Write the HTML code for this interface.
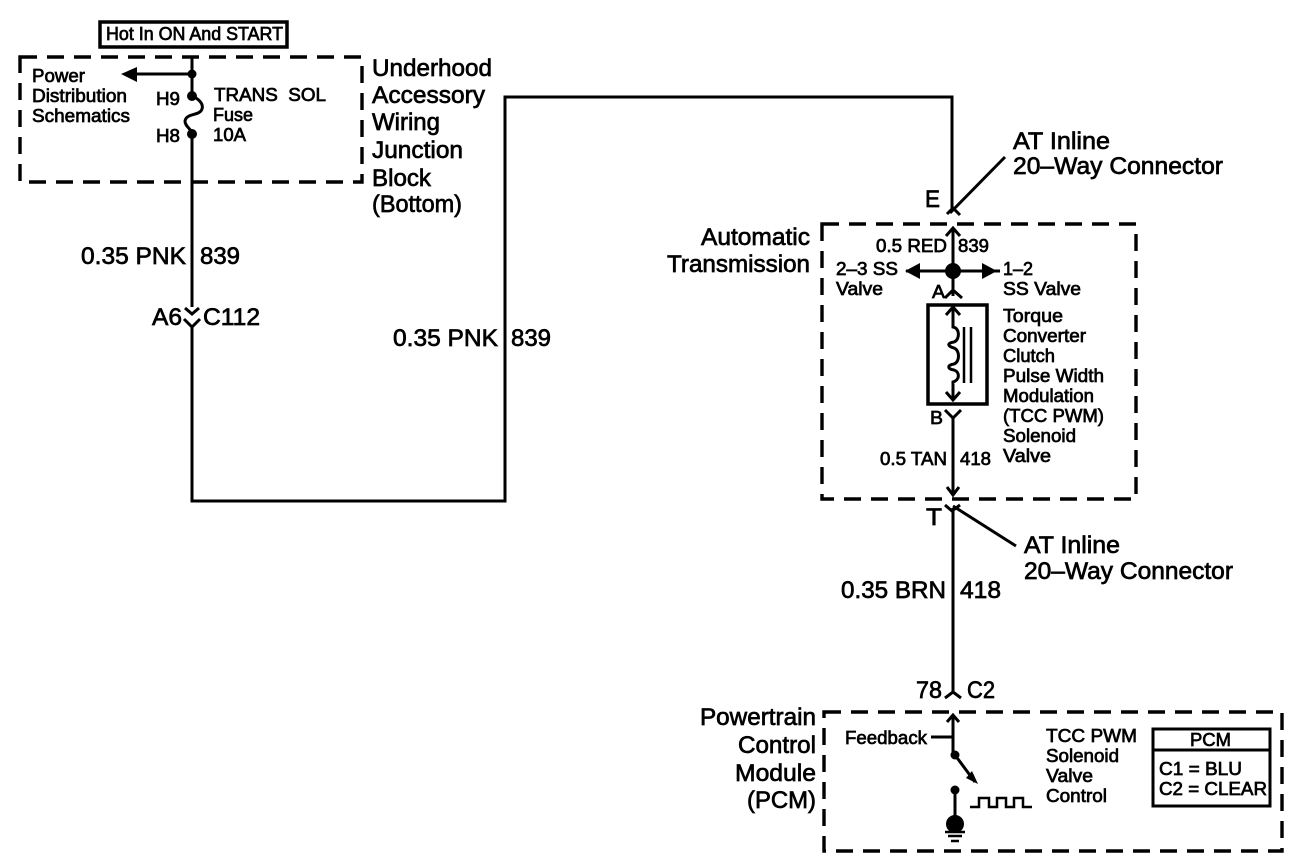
<!DOCTYPE html>
<html><head><meta charset="utf-8"><style>
html,body{margin:0;padding:0;background:#fff}
svg{display:block}
text{font-family:"Liberation Sans",sans-serif;fill:#000;stroke:#000;stroke-width:.7}
.s{font-size:18px}.m{font-size:24px}
.w{fill:none;stroke:#000;stroke-width:3}
.d{fill:none;stroke:#000;stroke-width:3.4;stroke-dasharray:17 10}
</style></head><body>
<svg width="1312" height="866" viewBox="0 0 1312 866" xmlns="http://www.w3.org/2000/svg">
<rect x="100" y="22" width="187" height="25" fill="none" stroke="#000" stroke-width="3.5"/>
<rect class="d" x="20" y="57" width="342" height="125"/>
<rect class="d" x="822" y="224" width="314" height="275"/>
<rect class="d" x="824" y="712" width="458" height="139"/>
<path class="w" d="M192 56V96M136 74H192M192 134V307M185 308L192 314L199 308M184 319L192 327L200 319M192 327V501H505V97H952V211"/>
<path class="w" d="M192 96C197 98 204 103 202 109C200 116 186 113 185 121C185 127 192 129 192 134"/>
<circle cx="192" cy="74" r="4.5"/><circle cx="192" cy="96" r="5"/><circle cx="192" cy="134" r="5"/>
<polygon points="121,74 137,67 137,82"/>
<!-- top connector -->
<path class="w" d="M1005 157L950 213M947 214L953 208L960 215"/>
<path class="w" d="M953 228V296M946 236L953 228L960 236M945 298L953 290L962 298M906 271H1000"/>
<circle cx="953" cy="271" r="8"/>
<polygon points="905,271 920,263 920,279"/><polygon points="997,271 982,263 982,279"/>
<rect x="928" y="305" width="59" height="99" fill="none" stroke="#000" stroke-width="3.5"/>
<path class="w" d="M946 315L953 307L960 315M953 308V327C960 328 960 340 954 342C947 343 947 346 954 348C960 350 960 362 954 364C947 365 947 369 954 370C960 372 960 380 953 382V400M946 392L953 400L960 392"/>
<path d="M964 327V383M971 327V383" fill="none" stroke="#000" stroke-width="2.5"/>
<path class="w" d="M945 410L953 418L961 410M953 418V495M947 487L953 495L959 487M945 505L952 511L960 505M953 508V692M953 506L1016 546M945 698L953 692L961 698"/>
<!-- PCM -->
<path class="w" d="M953 715V755M947 722L953 715L959 722M931 737H953M955 755L975 782M955 790V824"/>
<polygon points="978,784 966,778 972,771"/>
<circle cx="955" cy="755" r="4.5"/><circle cx="955" cy="790" r="4.5"/><circle cx="955" cy="824" r="9"/>
<path d="M945 832H965M948 836H962M951 841H959" stroke="#000" stroke-width="2.5"/>
<path d="M970 807H979V798H989V807H997V798H1006V807H1014V798H1023V807H1032" fill="none" stroke="#000" stroke-width="2.5"/>
<rect x="1153" y="729" width="117" height="77" fill="none" stroke="#000" stroke-width="3"/>
<path class="w" d="M1153 750H1270"/>

<text class="s" x="106" y="40" textLength="177" lengthAdjust="spacingAndGlyphs">Hot In ON And START</text>
<text class="s" x="32" y="82" textLength="53" lengthAdjust="spacingAndGlyphs">Power</text>
<text class="s" x="32" y="102" textLength="95" lengthAdjust="spacingAndGlyphs">Distribution</text>
<text class="s" x="32" y="122" textLength="98" lengthAdjust="spacingAndGlyphs">Schematics</text>
<text class="s" x="156" y="105" textLength="24" lengthAdjust="spacingAndGlyphs">H9</text>
<text class="s" x="156" y="142" textLength="24" lengthAdjust="spacingAndGlyphs">H8</text>
<text class="s" x="214" y="101" xml:space="preserve" textLength="112" lengthAdjust="spacingAndGlyphs">TRANS  SOL</text>
<text class="s" x="213" y="121" textLength="40" lengthAdjust="spacingAndGlyphs">Fuse</text>
<text class="s" x="213" y="141" textLength="33" lengthAdjust="spacingAndGlyphs">10A</text>
<text class="m" x="372" y="76" textLength="120" lengthAdjust="spacingAndGlyphs">Underhood</text>
<text class="m" x="372" y="103" textLength="113" lengthAdjust="spacingAndGlyphs">Accessory</text>
<text class="m" x="372" y="130" textLength="68" lengthAdjust="spacingAndGlyphs">Wiring</text>
<text class="m" x="372" y="158" textLength="91" lengthAdjust="spacingAndGlyphs">Junction</text>
<text class="m" x="372" y="186" textLength="59" lengthAdjust="spacingAndGlyphs">Block</text>
<text class="m" x="372" y="212" textLength="90" lengthAdjust="spacingAndGlyphs">(Bottom)</text>
<text class="m" x="81" y="264" textLength="105" lengthAdjust="spacingAndGlyphs">0.35 PNK</text>
<text class="m" x="200" y="264" textLength="40" lengthAdjust="spacingAndGlyphs">839</text>
<text class="m" x="152" y="325" textLength="30" lengthAdjust="spacingAndGlyphs">A6</text>
<text class="m" x="203" y="325" textLength="57" lengthAdjust="spacingAndGlyphs">C112</text>
<text class="m" x="393" y="346" textLength="105" lengthAdjust="spacingAndGlyphs">0.35 PNK</text>
<text class="m" x="511" y="346" textLength="40" lengthAdjust="spacingAndGlyphs">839</text>
<text class="m" x="925" y="207" textLength="15" lengthAdjust="spacingAndGlyphs">E</text>
<text class="m" x="1013" y="149" textLength="97" lengthAdjust="spacingAndGlyphs">AT Inline</text>
<text class="m" x="1013" y="174" textLength="210" lengthAdjust="spacingAndGlyphs">20–Way Connector</text>
<text class="m" x="701" y="245" textLength="109" lengthAdjust="spacingAndGlyphs">Automatic</text>
<text class="m" x="667" y="272" textLength="143" lengthAdjust="spacingAndGlyphs">Transmission</text>
<text class="s" x="876" y="252" textLength="71" lengthAdjust="spacingAndGlyphs">0.5 RED</text>
<text class="s" x="958" y="252" textLength="31" lengthAdjust="spacingAndGlyphs">839</text>
<text class="s" x="836" y="275" textLength="62" lengthAdjust="spacingAndGlyphs">2–3 SS</text>
<text class="s" x="836" y="295" textLength="47" lengthAdjust="spacingAndGlyphs">Valve</text>
<text class="s" x="1003" y="275" textLength="30" lengthAdjust="spacingAndGlyphs">1–2</text>
<text class="s" x="1003" y="295" textLength="78" lengthAdjust="spacingAndGlyphs">SS Valve</text>
<text class="s" x="932" y="298" textLength="13" lengthAdjust="spacingAndGlyphs">A</text>
<text class="s" x="1003" y="322" textLength="60" lengthAdjust="spacingAndGlyphs">Torque</text>
<text class="s" x="1003" y="342" textLength="83" lengthAdjust="spacingAndGlyphs">Converter</text>
<text class="s" x="1003" y="362" textLength="52" lengthAdjust="spacingAndGlyphs">Clutch</text>
<text class="s" x="1003" y="382" textLength="101" lengthAdjust="spacingAndGlyphs">Pulse Width</text>
<text class="s" x="1003" y="402" textLength="91" lengthAdjust="spacingAndGlyphs">Modulation</text>
<text class="s" x="1003" y="422" textLength="101" lengthAdjust="spacingAndGlyphs">(TCC PWM)</text>
<text class="s" x="1003" y="442" textLength="73" lengthAdjust="spacingAndGlyphs">Solenoid</text>
<text class="s" x="1003" y="462" textLength="48" lengthAdjust="spacingAndGlyphs">Valve</text>
<text class="s" x="930" y="424" textLength="13" lengthAdjust="spacingAndGlyphs">B</text>
<text class="s" x="880" y="465" textLength="67" lengthAdjust="spacingAndGlyphs">0.5 TAN</text>
<text class="s" x="960" y="465" textLength="31" lengthAdjust="spacingAndGlyphs">418</text>
<text class="m" x="926" y="525" textLength="16" lengthAdjust="spacingAndGlyphs">T</text>
<text class="m" x="1024" y="553" textLength="96" lengthAdjust="spacingAndGlyphs">AT Inline</text>
<text class="m" x="1024" y="579" textLength="209" lengthAdjust="spacingAndGlyphs">20–Way Connector</text>
<text class="m" x="841" y="598" textLength="105" lengthAdjust="spacingAndGlyphs">0.35 BRN</text>
<text class="m" x="960" y="598" textLength="41" lengthAdjust="spacingAndGlyphs">418</text>
<text class="m" x="916" y="698" textLength="26" lengthAdjust="spacingAndGlyphs">78</text>
<text class="m" x="967" y="698" textLength="28" lengthAdjust="spacingAndGlyphs">C2</text>
<text class="m" x="700" y="725" textLength="116" lengthAdjust="spacingAndGlyphs">Powertrain</text>
<text class="m" x="738" y="753" textLength="78" lengthAdjust="spacingAndGlyphs">Control</text>
<text class="m" x="735" y="781" textLength="81" lengthAdjust="spacingAndGlyphs">Module</text>
<text class="m" x="747" y="808" textLength="69" lengthAdjust="spacingAndGlyphs">(PCM)</text>
<text class="s" x="845" y="744" textLength="82" lengthAdjust="spacingAndGlyphs">Feedback</text>
<text class="s" x="1046" y="742" textLength="91" lengthAdjust="spacingAndGlyphs">TCC PWM</text>
<text class="s" x="1046" y="762" textLength="73" lengthAdjust="spacingAndGlyphs">Solenoid</text>
<text class="s" x="1046" y="782" textLength="47" lengthAdjust="spacingAndGlyphs">Valve</text>
<text class="s" x="1046" y="802" textLength="61" lengthAdjust="spacingAndGlyphs">Control</text>
<text class="s" x="1190" y="746" textLength="41" lengthAdjust="spacingAndGlyphs">PCM</text>
<text class="s" x="1159" y="775" textLength="83" lengthAdjust="spacingAndGlyphs">C1 = BLU</text>
<text class="s" x="1159" y="795" textLength="108" lengthAdjust="spacingAndGlyphs">C2 = CLEAR</text>
</svg>
</body></html>
